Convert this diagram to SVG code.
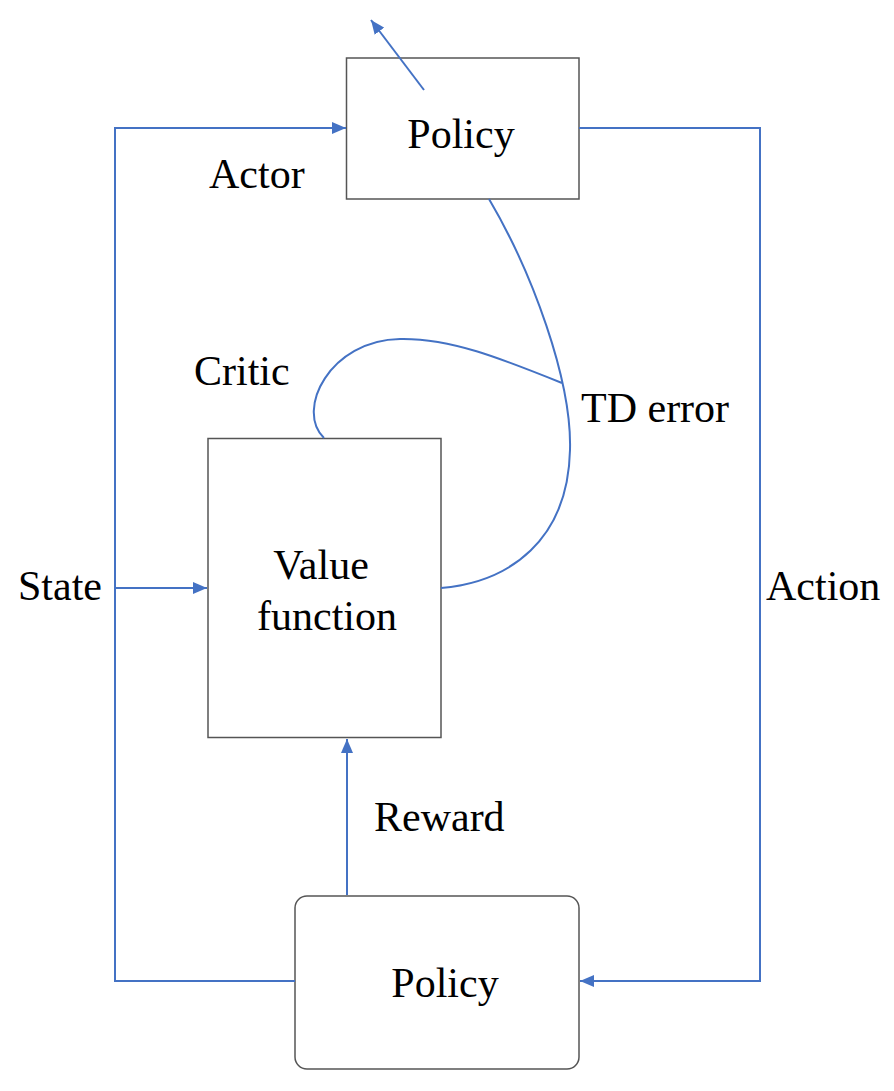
<svg xmlns="http://www.w3.org/2000/svg" width="894" height="1091" viewBox="0 0 894 1091">
<style>
.box{fill:#fff;stroke:#555;stroke-width:1.5}
.ln{fill:none;stroke:#4472C4;stroke-width:2}
.t{font-family:'Liberation Serif','Times New Roman',serif;font-size:42px;fill:#000}
</style>
<defs>
<marker id="ah" viewBox="0 0 14 12" refX="14" refY="6" markerWidth="14" markerHeight="12" markerUnits="userSpaceOnUse" orient="auto">
<path d="M0,0 L14,6 L0,12 z" fill="#4472C4"/>
</marker>
</defs>
<rect width="894" height="1091" fill="#fff"/>
<g id="actor-policy">
<rect class="box" x="346.5" y="58" width="232.5" height="141"/>
<text class="t" x="461" y="148" text-anchor="middle">Policy</text>
</g>
<g id="value-function">
<rect class="box" x="208" y="438.5" width="233" height="299"/>
<text class="t" x="321" y="579" text-anchor="middle">Value</text>
<text class="t" x="327" y="630" text-anchor="middle">function</text>
</g>
<g id="env-policy">
<rect class="box" x="295" y="896" width="284" height="173" rx="12" ry="12"/>
<text class="t" x="445" y="997" text-anchor="middle">Policy</text>
</g>
<g id="connectors">
<path class="ln" d="M295,981 H115 V128 H346" marker-end="url(#ah)"/>
<path class="ln" d="M115,588 H207" marker-end="url(#ah)"/>
<path class="ln" d="M579,128 H760 V981 H580" marker-end="url(#ah)"/>
<path class="ln" d="M347,895 V739" marker-end="url(#ah)"/>
<path class="ln" d="M424,90 L371,20" marker-end="url(#ah)"/>
<path class="ln" d="M489,199 C532,272 572,380 570,450 C568,540 510,582 441,588"/>
<path class="ln" d="M562,383 C500,358 450,338 400,339 C330,340 295,410 324,438"/>
</g>
<g id="labels">
<text class="t" x="209" y="188">Actor</text>
<text class="t" x="194" y="385">Critic</text>
<text class="t" x="581" y="422">TD error</text>
<text class="t" x="18" y="600">State</text>
<text class="t" x="766" y="600">Action</text>
<text class="t" x="374" y="831">Reward</text>
</g>
</svg>
